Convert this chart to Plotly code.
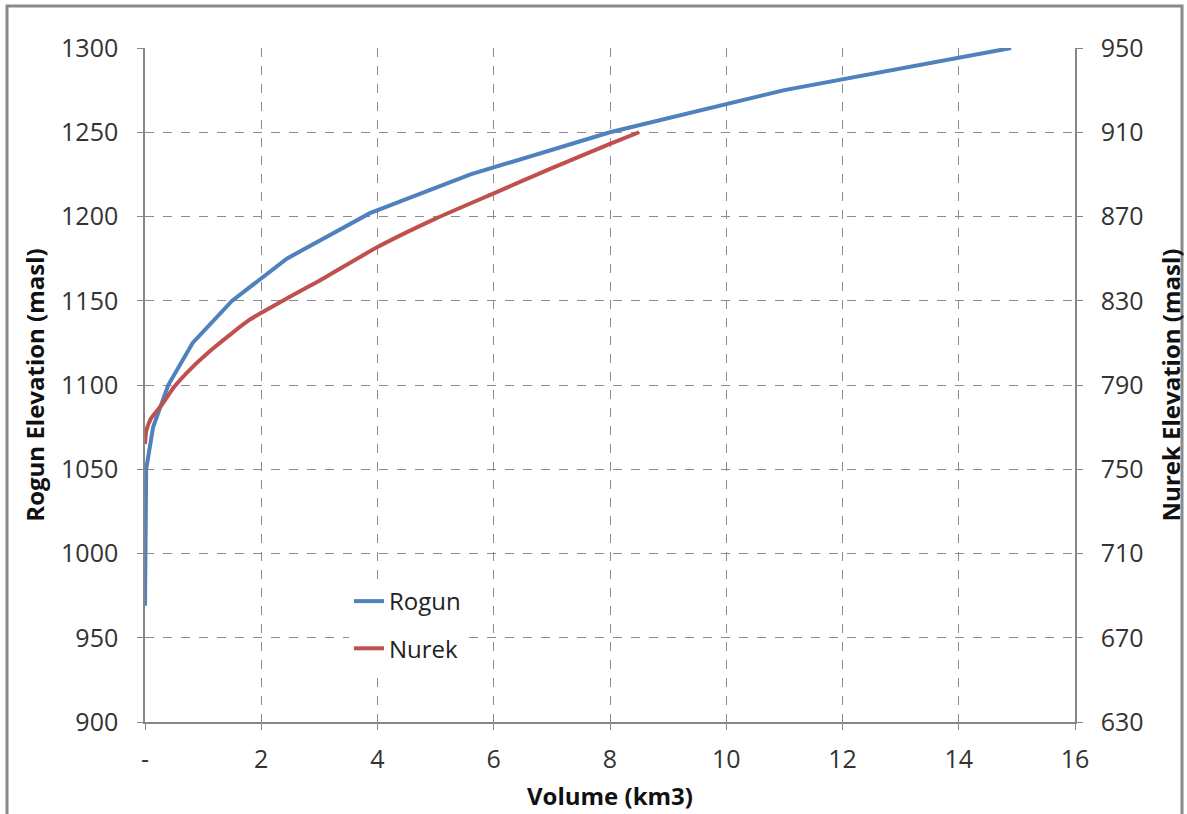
import plotly.graph_objects as go

# Data
rogun_volume = [0, 0.005, 0.01, 0.02, 0.14, 0.4, 0.82, 1.5, 2.44, 3.87, 5.6, 8.0, 11.0, 14.9]
rogun_elev = [969, 1000, 1025, 1050, 1075, 1100, 1125, 1150, 1175, 1202, 1225, 1250, 1275, 1300]

nurek_volume = [0, 0.02, 0.1, 0.3, 0.5, 0.8, 1.2, 1.8, 2.5, 3.0, 4.0, 5.0, 6.0, 7.0, 8.0, 8.5]
nurek_elev = [762, 768, 774, 781, 789, 798, 808, 821, 832, 839.5, 855.5, 869, 881, 893, 904.5, 910]

x_ticks = [0, 2, 4, 6, 8, 10, 12, 14, 16]
x_ticktext = ["-", "2", "4", "6", "8", "10", "12", "14", "16"]

FONT = "Open Sans"
TICK_COLOR = "#333333"
AXIS_COLOR = "#868686"
GRID_COLOR = "#8c8c8c"
TITLE_FONT = dict(size=24, color="#111111")

fig = go.Figure()
fig.add_trace(go.Scatter(x=rogun_volume, y=rogun_elev, mode="lines", name="Rogun",
                         line=dict(color="#4F81BD", width=4), legendgroup="a"))
fig.add_trace(go.Scatter(x=nurek_volume, y=nurek_elev, mode="lines", name="Nurek",
                         line=dict(color="#C0504D", width=4, shape="spline", smoothing=0.5),
                         yaxis="y2", legendgroup="b"))

W, H = 1187, 814
L, R, T, B = 145, 112, 48, 92
pw, ph = W - L - R, H - T - B

fig.update_layout(
    width=W, height=H,
    margin=dict(l=L, r=R, t=T, b=B),
    paper_bgcolor="white", plot_bgcolor="white",
    font=dict(family=FONT, size=25, color=TICK_COLOR),
    showlegend=True,
    legend=dict(x=(349 - L) / pw, y=(722 - 579) / ph, xanchor="left", yanchor="top",
                bgcolor="white", font=dict(size=24, color="#222222"),
                traceorder="grouped", tracegroupgap=13),
    xaxis=dict(range=[0, 16], tickvals=x_ticks, ticktext=x_ticktext,
               showgrid=True, gridcolor=GRID_COLOR, griddash="dash", gridwidth=1,
               showline=True, linecolor=AXIS_COLOR, linewidth=1.5,
               ticks="outside", ticklen=6, tickcolor=AXIS_COLOR, ticklabelstandoff=8,
               zeroline=False, automargin=False,
               title=dict(text="<b>Volume (km3)</b>", font=TITLE_FONT, standoff=14)),
    yaxis=dict(range=[900, 1300], dtick=50, tick0=900,
               showgrid=True, gridcolor=GRID_COLOR, griddash="dash", gridwidth=1,
               showline=True, linecolor=AXIS_COLOR, linewidth=1.5,
               ticks="outside", ticklen=6, tickcolor=AXIS_COLOR, ticklabelstandoff=14,
               zeroline=False, automargin=False,
               title=dict(text="<b>Rogun Elevation (masl)</b>", font=TITLE_FONT, standoff=10)),
    yaxis2=dict(range=[630, 950], dtick=40, tick0=630, overlaying="y", side="right",
                showgrid=False, showline=True, linecolor=AXIS_COLOR, linewidth=1.5,
                ticks="outside", ticklen=6, tickcolor=AXIS_COLOR, ticklabelstandoff=13,
                zeroline=False, automargin=False,
                title=dict(text="<b>Nurek Elevation (masl)</b>", font=TITLE_FONT, standoff=23)),
    shapes=[dict(type="rect", xref="paper", yref="paper",
                 x0=(7 - L) / pw, x1=(1182 - L) / pw,
                 y0=(722 - 830) / ph, y1=1 + (T - 6) / ph,
                 line=dict(color="#8a8a8a", width=3), layer="below")],
)

fig.write_html("out.html", config={"displayModeBar": False},
               post_script="document.body.style.margin='0';")
